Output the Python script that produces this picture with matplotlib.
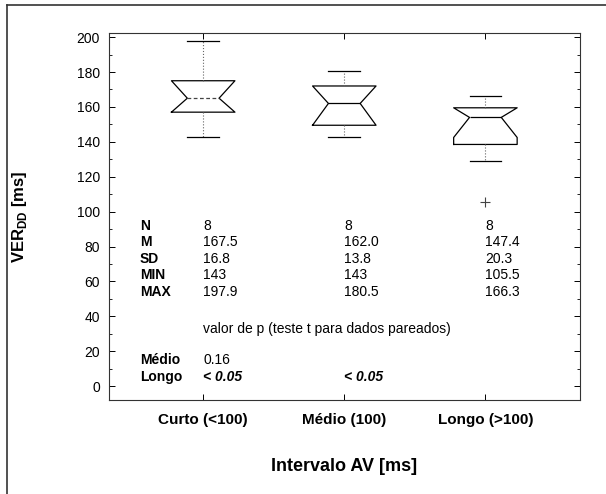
import matplotlib
matplotlib.use('Agg')
import matplotlib.pyplot as plt
from matplotlib.lines import Line2D
from matplotlib.ticker import MultipleLocator

plt.rcParams['font.family'] = ['Liberation Sans', 'DejaVu Sans']
plt.rcParams['mathtext.fontset'] = 'custom'
plt.rcParams['mathtext.rm'] = 'Liberation Sans:bold'
plt.rcParams['mathtext.bf'] = 'Liberation Sans:bold'

# dados
categories = ['Curto (<100)', 'Médio (100)', 'Longo (>100)']
whislo = [143.0, 143.0, 129.0]
q1 = [157.0, 149.5, 138.5]
med = [165.0, 162.0, 154.0]
q3 = [175.0, 172.0, 159.5]
whishi = [197.9, 180.5, 166.3]
notch_lo = [157.0, 149.5, 142.5]
notch_hi = [175.0, 172.0, 159.5]
outliers = [[], [], [105.5]]

stat_labels = ['N', 'M', 'SD', 'MIN', 'MAX']
n_vals = ['8', '8', '8']
mean_vals = ['167.5', '162.0', '147.4']
sd_vals = ['16.8', '13.8', '20.3']
min_vals = ['143', '143', '105.5']
max_vals = ['197.9', '180.5', '166.3']
p_medio = ['0.16']
p_longo = ['< 0.05', '< 0.05']

positions = [1, 2, 3]
stats = []
for i in range(3):
    stats.append(dict(whislo=whislo[i], q1=q1[i], med=med[i], q3=q3[i],
                      whishi=whishi[i], cilo=notch_lo[i], cihi=notch_hi[i],
                      fliers=outliers[i], label=categories[i]))

fig = plt.figure(figsize=(6.06, 4.94), dpi=100)
ax = fig.add_axes([0.180, 0.190, 0.777, 0.743])

bp = ax.bxp(stats, positions=positions, widths=0.45, shownotches=True,
            boxprops=dict(color='black', lw=0.9),
            whiskerprops=dict(color='#666666', lw=0.8, linestyle=':'),
            capprops=dict(color='black', lw=0.9),
            medianprops=dict(color='black', lw=0.9),
            flierprops=dict(marker='+', markersize=7, markeredgecolor='#444444',
                            markeredgewidth=0.8, linestyle='none'))
bp['medians'][0].set_linestyle((0, (3, 2)))
bp['medians'][0].set_color('#444444')

ax.set_xlim(0.333, 3.67)
ax.set_ylim(-8.0, 202.3)
ax.set_xticks(positions)
ax.set_xticklabels(categories, fontsize=11, fontweight='bold')
ax.set_yticks(range(0, 201, 20))
ax.yaxis.set_minor_locator(MultipleLocator(10))
ax.tick_params(axis='y', which='major', direction='in', length=4, width=0.7,
               right=True, labelsize=10, pad=6.5)
ax.tick_params(axis='y', which='minor', direction='in', length=2, width=0.6, right=True)
ax.tick_params(axis='x', direction='in', length=4.5, width=0.7, top=True, pad=9)
for s in ax.spines.values():
    s.set_linewidth(0.8)
    s.set_color('#333333')

ax.set_xlabel('Intervalo AV [ms]', fontsize=13, fontweight='bold')
ax.xaxis.set_label_coords(0.5, -0.158)
ax.set_ylabel(r'VER$_{\mathregular{DD}}$ [ms]', fontsize=12, fontweight='bold')
ax.yaxis.set_label_coords(-0.17, 0.5)

# tabela de estatisticas
row_y = [91.5, 82.5, 73.0, 63.5, 54.0]
rows = [n_vals, mean_vals, sd_vals, min_vals, max_vals]
for lab, y, vals in zip(stat_labels, row_y, rows):
    ax.text(0.55, y, lab, fontsize=10, fontweight='bold', va='center', ha='left')
    for x, v in zip(positions, vals):
        ax.text(x, y, v, fontsize=10, va='center', ha='left')

ax.text(1, 33, 'valor de p (teste t para dados pareados)', fontsize=10, va='center', ha='left')
ax.text(0.55, 15, 'Médio', fontsize=10, fontweight='bold', va='center', ha='left')
ax.text(0.55, 5.3, 'Longo', fontsize=10, fontweight='bold', va='center', ha='left')
for x, v in zip(positions, p_medio):
    ax.text(x, 15, v, fontsize=10, va='center', ha='left')
for x, v in zip(positions, p_longo):
    ax.text(x, 5.3, v, fontsize=10, fontweight='bold', fontstyle='italic',
            va='center', ha='left')

# moldura externa (so topo e esquerda)
fig.add_artist(Line2D([0.0116, 1.0], [0.990, 0.990], color='#333333', lw=1.2))
fig.add_artist(Line2D([0.0116, 0.0116], [0.0, 0.990], color='#333333', lw=1.2))

fig.savefig('out.png', dpi=100)
